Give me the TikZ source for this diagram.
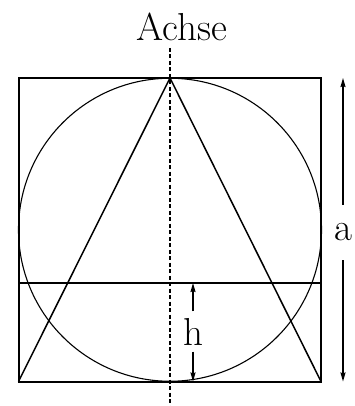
\documentclass[tikz,border=0pt]{standalone}
\usetikzlibrary{arrows.meta}
\begin{document}
\begin{tikzpicture}[x=1pt,y=-1pt,
  bigtext/.style={font=\fontsize{39}{46}\selectfont, inner sep=0pt},
  dim/.style={line width=1.4pt, -{Stealth[length=9pt,width=5pt,inset=1pt]}},
  frame/.style={line width=2pt},
  thin/.style={line width=1.1pt},
  axisline/.style={line width=1.2pt, dash pattern=on 4pt off 2.5pt}]
\useasboundingbox (0,0) rectangle (355,406);
\coordinate (TL) at (18.5,78);
\coordinate (TR) at (321,78);
\coordinate (BL) at (18.5,381.5);
\coordinate (BR) at (321,381.5);
\coordinate (apex) at (170,78);
\coordinate (C) at (170,229.75);
\coordinate (HL) at (18.5,283);
\coordinate (HR) at (321,283);
% axis
\coordinate (axtop) at (170,48);
\coordinate (axbot) at (170,406);
\draw[axisline] (axtop) -- (axbot);
\node[bigtext, anchor=base] (achse) at (181.5,41) {Achse};
% circle
\draw[thin] (C) circle (151.5);
% triangle
\draw[line width=1.5pt, line join=miter] (BL) -- (apex) -- (BR);
% horizontal line
\draw[thin] (HL) -- (HR);
% square
\draw[frame] (TL) rectangle (BR);
% h dimension
\node[bigtext, minimum height=40pt] (h) at (193,331.5) {h};
\coordinate (htop) at (193,283);
\coordinate (hbot) at (193,381.5);
\draw[dim] (h.north) -- (htop);
\draw[dim] (h.south) -- (hbot);
% a dimension
\node[bigtext, minimum height=55pt] (a) at (343,232.5) {a};
\coordinate (atop) at (343,78);
\coordinate (abot) at (343,381.5);
\draw[dim] (a.north) -- (atop);
\draw[dim] (a.south) -- (abot);
\end{tikzpicture}
\end{document}
